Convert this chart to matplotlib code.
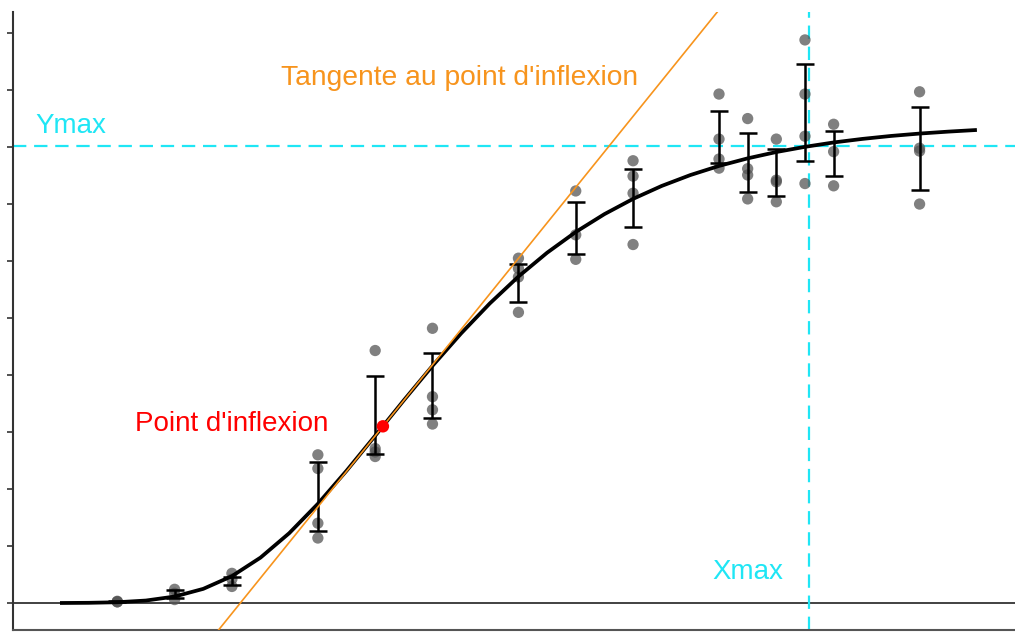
import matplotlib
matplotlib.use("Agg")
import matplotlib.pyplot as plt

# ---- data ----
times = [2, 4, 6, 9, 11, 13, 16, 18, 20, 23, 24, 25, 26, 27, 30]
replicates = [
    [0.02, 0.02, 0.03],
    [0.24, 0.17, 0.06],
    [0.52, 0.42, 0.29],
    [2.60, 2.36, 1.40, 1.14],
    [4.43, 2.71, 2.65, 2.57],
    [4.82, 3.62, 3.39, 3.14],
    [6.05, 5.87, 5.72, 5.10],
    [7.23, 6.46, 6.03],
    [7.76, 7.49, 7.19, 6.29],
    [8.93, 8.14, 7.79, 7.63],
    [8.50, 7.62, 7.51, 7.09],
    [8.14, 7.42, 7.39, 7.04],
    [9.88, 8.93, 8.19, 7.36],
    [8.40, 7.92, 7.32],
    [8.97, 7.98, 7.93, 7.00],
]
means = [0.02, 0.15, 0.39, 1.87, 3.30, 3.82, 5.62, 6.58, 7.10, 8.18, 7.73, 7.55, 8.61, 7.89, 7.97]
errors = [0.01, 0.07, 0.07, 0.61, 0.68, 0.57, 0.33, 0.45, 0.51, 0.46, 0.51, 0.41, 0.85, 0.39, 0.73]

curve_t = list(range(0, 33))
curve_y = [0.00, 0.003, 0.013, 0.043, 0.113, 0.248, 0.471, 0.797, 1.225, 1.740,
           2.320, 2.934, 3.557, 4.161, 4.731, 5.256, 5.728, 6.146, 6.510, 6.823,
           7.091, 7.318, 7.509, 7.669, 7.802, 7.913, 8.004, 8.081, 8.143, 8.195,
           8.237, 8.271, 8.300]

inflection_t, inflection_y = 11.27, 3.10
tangent_slope = 0.623
x_max = 26.13
y_max = 8.02

# ---- styles ----
CYAN = "#1FE6F5"
ORANGE = "#F7941D"
FONT = "Liberation Sans"
FS = 20

fig = plt.figure(figsize=(10.15, 6.32), dpi=100)
ax = fig.add_axes([13 / 1015, 2 / 632, 1002 / 1015, 618 / 632])
ax.set_xlim(-1.64, 33.33)
ax.set_ylim(-0.474, 10.37)

# zero line
ax.axhline(0, color="#333333", lw=1.3, zorder=1)

# guide lines
ax.axhline(y_max, color=CYAN, lw=1.6, dashes=(6, 3.5), zorder=2)
ax.axvline(x_max, color=CYAN, lw=1.6, dashes=(6, 3.5), zorder=2)

# replicate points
for t, reps in zip(times, replicates):
    ax.scatter([t] * len(reps), reps, s=66, color="#555555", alpha=0.75,
               edgecolors="none", zorder=3)

# error bars
ax.errorbar(times, means, yerr=errors, fmt="none", ecolor="black",
            elinewidth=1.8, capsize=6.5, capthick=1.8, zorder=4)

# fitted curve
ax.plot(curve_t, curve_y, color="black", lw=2.7, solid_capstyle="butt", zorder=5)

# tangent at inflection
ax.axline((inflection_t, inflection_y), slope=tangent_slope, color=ORANGE,
          lw=1.2, zorder=6)

# inflection point
ax.scatter([inflection_t], [inflection_y], s=80, color="#FF0000",
           edgecolors="none", zorder=7)

# labels
ax.text(7.73, 9.09, "Tangente au point d'inflexion", color=ORANGE,
        fontsize=FS + 0.3, family=FONT, va="baseline", ha="left")
ax.text(-0.87, 8.25, "Ymax", color=CYAN, fontsize=FS, family=FONT,
        va="baseline", ha="left")
ax.text(2.62, 3.01, "Point d'inflexion", color="#FF0000", fontsize=FS,
        family=FONT, va="baseline", ha="left")
ax.text(22.78, 0.416, "Xmax", color=CYAN, fontsize=FS, family=FONT,
        va="baseline", ha="left")

# axes styling
for side in ("top", "right"):
    ax.spines[side].set_visible(False)
ax.spines["left"].set_color("#333333")
ax.spines["left"].set_linewidth(1.5)
ax.spines["bottom"].set_color("#555555")
ax.spines["bottom"].set_linewidth(1.5)
ax.set_yticks(range(0, 11))
ax.set_yticklabels([])
ax.set_xticks([])
ax.tick_params(axis="y", direction="out", length=4.5, width=1.2, color="#333333")

fig.savefig("out.png", dpi=100)
